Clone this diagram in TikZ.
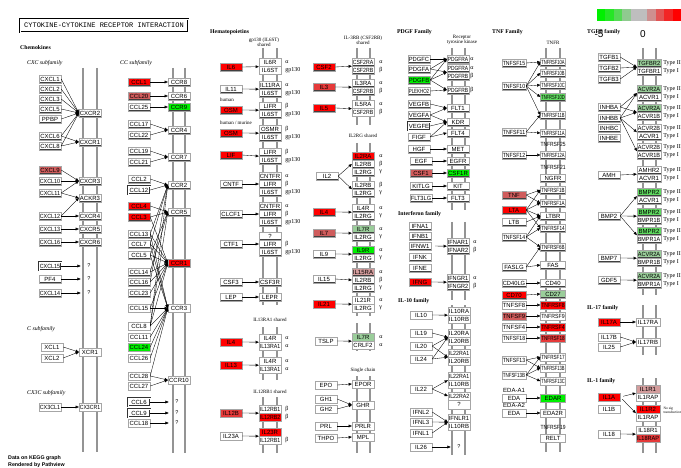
\documentclass[tikz,border=0pt]{standalone}
\usepackage{fontspec}
\setmainfont{Liberation Serif}
\newfontfamily\genefont{Liberation Sans}
\newfontfamily\boxfont{Liberation Mono}
\usepackage{graphicx}
\usetikzlibrary{positioning,arrows.meta}
\definecolor{kR5}{HTML}{FF0000}
\definecolor{kR4}{HTML}{E53A3A}
\definecolor{kR3}{HTML}{CF5C5C}
\definecolor{kR2}{HTML}{D39C9C}
\definecolor{kG5}{HTML}{00F000}
\definecolor{kG3}{HTML}{5FD85F}
\definecolor{kG2}{HTML}{9ACD9A}
\definecolor{kGray}{HTML}{BEBEBE}
\definecolor{kMem}{HTML}{949494}
% text of a gene box is squeezed to the box width
\newsavebox\fitbx
\newdimen\fitht
\newcommand\fitw{20pt}
\newcommand\fitend{\egroup\ifdim\wd\fitbx>\fitw\relax\fitht=\ht\fitbx\resizebox{\fitw}{\fitht}{\usebox\fitbx}\else\usebox\fitbx\fi}

\begin{document}
\begin{tikzpicture}[x=1pt,y=-1pt,
  gbox/.style={draw=black!35,line width=0.35pt,fill=white,minimum height=8,inner sep=0,font=\genefont\fontsize{6}{7}\selectfont,
    path picture={\draw[black!75,line width=1pt] (path picture bounding box.south west) -- (path picture bounding box.south east) -- (path picture bounding box.north east);}},
  g/.style={gbox,minimum width=#1,execute at begin node={\def\fitw{\dimexpr#1pt-1.6pt\relax}\setbox\fitbx\hbox\bgroup},execute at end node={\fitend}},
  g/.default=22,
  dbl/.style={draw=black!80,double=white,double distance=0.7pt,line width=0.3pt,path picture={}},
  pl/.style={inner sep=0,font=\genefont\fontsize{6}{7}\selectfont,execute at begin node={\def\fitw{\dimexpr#1pt\relax}\setbox\fitbx\hbox\bgroup},execute at end node={\fitend}},
  pl/.default=24,
  r5/.style={fill=kR5},r4/.style={fill=kR4},r3/.style={fill=kR3},r2/.style={fill=kR2},
  g5/.style={fill=kG5},g3/.style={fill=kG3},g2/.style={fill=kG2},
  qm/.style={inner sep=0.6pt,font=\genefont\fontsize{5.5}{6}\selectfont},
  gk/.style={inner sep=0,font=\fontsize{6}{7}\selectfont},
  hd/.style={anchor=west,inner sep=0,font=\bfseries\fontsize{5.8}{7}\selectfont},
  sf/.style={anchor=west,inner sep=0,font=\itshape\fontsize{5.8}{7}\selectfont},
  sh/.style={inner sep=0,align=center,font=\fontsize{5}{5.4}\selectfont},
  mem/.style={kMem,line width=1.8pt},
  a/.style={-{Triangle[length=3.2pt,width=2.8pt]},line width=0.35pt,black}]
\clip (0,0) rectangle (681,468);
\fill[white] (0,0) rectangle (681,468);

% ---------------- title, scale
\node[draw,double,double distance=0.8pt,line width=0.45pt,minimum width=168,minimum height=13,inner sep=0,font=\boxfont\fontsize{7}{7}\selectfont] (title) at (104,25.5) {CYTOKINE-CYTOKINE RECEPTOR INTERACTION};
\foreach \c [count=\i from 0] in {kG5,kG5!80!kGray,kG5!55!kGray,kG5!25!kGray,kGray,kGray,kR5!25!kGray,kR5!55!kGray,kR5!80!kGray,kR5}
  \fill[\c] (597+\i*8.4,9) rectangle ++(8.4,12);
\node[inner sep=0,font=\genefont\fontsize{10}{10}\selectfont] (scalelo) at (599,34) {-5};
\node[inner sep=0,font=\genefont\fontsize{10}{10}\selectfont] (scalemid) at (643,34) {0};

% ---------------- membranes
\draw[mem] (83,68) -- (83,452);   \draw[mem] (97,68) -- (97,452);
\draw[mem] (173,68) -- (173,453); \draw[mem] (185,68) -- (185,453);
\draw[mem] (263,48) -- (263,305); \draw[mem] (277,48) -- (277,305);
\draw[mem] (263,327) -- (263,380); \draw[mem] (277,327) -- (277,380);
\draw[mem] (263,397) -- (263,453); \draw[mem] (277,397) -- (277,453);
\draw[mem] (357,48) -- (357,125); \draw[mem] (370,48) -- (370,125);
\draw[mem] (357,143) -- (357,316); \draw[mem] (370,143) -- (370,316);
\draw[mem] (357,323) -- (357,351); \draw[mem] (370,323) -- (370,351);
\draw[mem] (357,376) -- (357,453); \draw[mem] (370,376) -- (370,453);
\draw[mem] (452,48) -- (452,210); \draw[mem] (465,48) -- (465,210);
\draw[mem] (452,222) -- (452,300); \draw[mem] (465,222) -- (465,300);
\draw[mem] (452,305) -- (452,455); \draw[mem] (465,305) -- (465,455);
\draw[mem] (546,48) -- (546,452); \draw[mem] (560,48) -- (560,452);
\draw[mem] (643,48) -- (643,295); \draw[mem] (656,48) -- (656,295);
\draw[mem] (643,305) -- (643,355); \draw[mem] (656,305) -- (656,355);
\draw[mem] (643,378) -- (643,453); \draw[mem] (656,378) -- (656,453);

% ---------------- chemokines
\node[hd] (hchemo) at (20,48) {Chemokines};
\node[sf] (hcxc) at (27,63) {CXC subfamily};
\node[sf] (hcc) at (120,63) {CC subfamily};
\node[sf] (hc) at (27,329) {C subfamily};
\node[sf] (hcx3c) at (27,393) {CX3C subfamily};

\node[g] (cxcl1) at (50,79) {CXCL1};
\node[g] (cxcl2) at (50,89) {CXCL2};
\node[g] (cxcl3) at (50,99) {CXCL3};
\node[g] (cxcl5) at (50,109) {CXCL5};
\node[g] (ppbp) at (50,119) {PPBP};
\node[g] (cxcl6) at (50,136) {CXCL6};
\node[g] (cxcl8) at (50,146) {CXCL8};
\node[g,r3] (cxcl9) at (50,170) {CXCL9};
\node[g] (cxcl10) at (50,181) {CXCL10};
\node[g] (cxcl11) at (50,193) {CXCL11};
\node[g] (cxcl12) at (50,216) {CXCL12};
\node[g] (cxcl13) at (50,229) {CXCL13};
\node[g] (cxcl16) at (50,242) {CXCL16};
\node[g,dbl] (cxcl15) at (50,266) {CXCL15};
\node[g] (pf4) at (50,279) {PF4};
\node[g] (cxcl14) at (50,293) {CXCL14};
\node[g] (xcl1) at (52,347) {XCL1};
\node[g] (xcl2) at (52,358) {XCL2};
\node[g] (cx3cl1) at (50,407) {CX3CL1};

\node[g] (cxcr2) at (90,113) {CXCR2};
\node[g] (cxcr1) at (90,142) {CXCR1};
\node[g] (cxcr3) at (90,181) {CXCR3};
\node[g] (ackr3) at (90,198) {ACKR3};
\node[g] (cxcr4) at (90,216) {CXCR4};
\node[g] (cxcr5) at (90,229) {CXCR5};
\node[g] (cxcr6) at (90,242) {CXCR6};
\node[qm] (cxq1) at (89,266) {?};
\node[qm] (cxq2) at (89,279) {?};
\node[qm] (cxq3) at (89,293) {?};
\node[g] (xcr1) at (90,352) {XCR1};
\node[g] (cx3cr1) at (90,407) {CX3CR1};

\draw[a] (cxcl1.east) -- (cxcr2.west);
\draw[a] (cxcl2.east) -- (cxcr2.west);
\draw[a] (cxcl3.east) -- (cxcr2.west);
\draw[a] (cxcl5.east) -- (cxcr2.west);
\draw[a] (ppbp.east) -- (cxcr2.west);
\draw[a] (cxcl6.east) -- (cxcr2.west);
\draw[a] (cxcl8.east) -- (cxcr2.west);
\draw[a] (cxcl6.east) -- (cxcr1.west);
\draw[a] (cxcl8.east) -- (cxcr1.west);
\draw[a] (cxcl9.east) -- (cxcr3.west);
\draw[a] (cxcl10.east) -- (cxcr3.west);
\draw[a] (cxcl11.east) -- (cxcr3.west);
\draw[a] (cxcl11.east) -- (ackr3.west);
\draw[a] (cxcl12.east) -- (ackr3.west);
\draw[a] (cxcl12.east) -- (cxcr4.west);
\draw[a] (cxcl13.east) -- (cxcr5.west);
\draw[a] (cxcl16.east) -- (cxcr6.west);
\draw[a,shorten >=6pt] (cxcl15.east) -- (cxq1.west);
\draw[a,shorten >=6pt] (pf4.east) -- (cxq2.west);
\draw[a,shorten >=6pt] (cxcl14.east) -- (cxq3.west);
\draw[a] (xcl1.east) -- (xcr1.west);
\draw[a] (xcl2.east) -- (xcr1.west);
\draw[a] (cx3cl1.east) -- (cx3cr1.west);

% ---------------- CC subfamily
\node[g,r5] (ccl1) at (139,82) {CCL1};
\node[g,r3] (ccl20) at (139,96) {CCL20};
\node[g] (ccl25) at (139,107) {CCL25};
\node[g] (ccl17) at (139,124) {CCL17};
\node[g] (ccl22) at (139,135) {CCL22};
\node[g] (ccl19) at (139,151) {CCL19};
\node[g] (ccl21) at (139,162) {CCL21};
\node[g] (ccl2) at (139,179) {CCL2};
\node[g,dbl] (ccl12) at (139,190) {CCL12};
\node[g,r5] (ccl4) at (139,206) {CCL4};
\node[g,r5] (ccl3) at (139,217) {CCL3};
\node[g] (ccl13) at (139,234) {CCL13};
\node[g] (ccl7) at (139,244) {CCL7};
\node[g] (ccl5) at (139,255) {CCL5};
\node[g] (ccl14) at (139,272) {CCL14};
\node[g] (ccl16) at (139,282) {CCL16};
\node[g] (ccl23) at (139,293) {CCL23};
\node[g] (ccl15) at (139,308) {CCL15};
\node[g] (ccl8) at (139,326) {CCL8};
\node[g] (ccl11) at (139,337) {CCL11};
\node[g,g5] (ccl24) at (139,347) {CCL24};
\node[g] (ccl26) at (139,358) {CCL26};
\node[g] (ccl28) at (139,376) {CCL28};
\node[g] (ccl27) at (139,386) {CCL27};
\node[g,dbl] (ccl6) at (139,402) {CCL6};
\node[g,dbl] (ccl9) at (139,413) {CCL9};
\node[g] (ccl18) at (139,423) {CCL18};

\node[g] (ccr8) at (179,82) {CCR8};
\node[g] (ccr6) at (179,96) {CCR6};
\node[g,g5] (ccr9) at (179,107) {CCR9};
\node[g] (ccr4) at (179,130) {CCR4};
\node[g] (ccr7) at (179,157) {CCR7};
\node[g] (ccr2) at (179,185) {CCR2};
\node[g] (ccr5) at (179,212) {CCR5};
\node[g,r5] (ccr1) at (179,263) {CCR1};
\node[g] (ccr3) at (179,308) {CCR3};
\node[g] (ccr10) at (179,380) {CCR10};
\node[qm] (ccq1) at (177,402) {?};
\node[qm] (ccq2) at (177,413) {?};
\node[qm] (ccq3) at (177,423) {?};

\draw[a] (ccl1.east) -- (ccr8.west);
\draw[a] (ccl20.east) -- (ccr6.west);
\draw[a] (ccl25.east) -- (ccr9.west);
\draw[a] (ccl17.east) -- (ccr4.west);
\draw[a] (ccl22.east) -- (ccr4.west);
\draw[a] (ccl19.east) -- (ccr7.west);
\draw[a] (ccl21.east) -- (ccr7.west);
\draw[a] (ccl2.east) -- (ccr2.west);
\draw[a] (ccl12.east) -- (ccr2.west);
\draw[a] (ccl7.east) -- (ccr2.west);
\draw[a] (ccl13.east) -- (ccr2.west);
\draw[a] (ccl8.east) -- (ccr2.west);
\draw[a] (ccl16.east) -- (ccr2.west);
\draw[a] (ccl4.east) -- (ccr5.west);
\draw[a] (ccl3.east) -- (ccr5.west);
\draw[a] (ccl5.east) -- (ccr5.west);
\draw[a] (ccl8.east) -- (ccr5.west);
\draw[a] (ccl14.east) -- (ccr5.west);
\draw[a] (ccl3.east) -- (ccr1.west);
\draw[a] (ccl5.east) -- (ccr1.west);
\draw[a] (ccl7.east) -- (ccr1.west);
\draw[a] (ccl13.east) -- (ccr1.west);
\draw[a] (ccl14.east) -- (ccr1.west);
\draw[a] (ccl15.east) -- (ccr1.west);
\draw[a] (ccl16.east) -- (ccr1.west);
\draw[a] (ccl23.east) -- (ccr1.west);
\draw[a] (ccl8.east) -- (ccr1.west);
\draw[a] (ccl5.east) -- (ccr3.west);
\draw[a] (ccl7.east) -- (ccr3.west);
\draw[a] (ccl13.east) -- (ccr3.west);
\draw[a] (ccl15.east) -- (ccr3.west);
\draw[a] (ccl8.east) -- (ccr3.west);
\draw[a] (ccl11.east) -- (ccr3.west);
\draw[a] (ccl24.east) -- (ccr3.west);
\draw[a] (ccl26.east) -- (ccr3.west);
\draw[a] (ccl28.east) -- (ccr3.west);
\draw[a] (ccl28.east) -- (ccr10.west);
\draw[a] (ccl27.east) -- (ccr10.west);
\draw[a,shorten >=6pt] (ccl6.east) -- (ccq1.west);
\draw[a,shorten >=6pt] (ccl9.east) -- (ccq2.west);
\draw[a,shorten >=6pt] (ccl18.east) -- (ccq3.west);

% ---------------- hematopoietins
\node[hd] (hhema) at (210,32) {Hematopoietins};
\node[sh] (hgp130) at (264,42) {gp130 (IL6ST)\\shared};
\node[sh,anchor=west] (hhuman) at (220,100) {human};
\node[sh,anchor=west] (hmurine) at (220,123) {human / murine};
\node[sh] (hil13) at (270,320) {IL13RA1 shared};
\node[sh] (hil12) at (270,392) {IL12RB1 shared};

\node[g,r5] (il6) at (231,67) {IL6};
\node[g] (il11) at (231,89) {IL11};
\node[g,r5] (osm) at (231,110) {OSM};
\node[g,r5] (osmb) at (231,133) {OSM};
\node[g,r5] (lif) at (231,155) {LIF};
\node[g] (cntf) at (231,184) {CNTF};
\node[g] (clcf1) at (231,214) {CLCF1};
\node[g] (ctf1) at (231,244) {CTF1};
\node[g] (csf3) at (231,282) {CSF3};
\node[g] (lep) at (231,297) {LEP};
\node[g,r5] (il4) at (231,342) {IL4};
\node[g,r5] (il13) at (231,365) {IL13};
\node[g,r4] (il12b) at (231,413) {IL12B};
\node[g] (il23a) at (231,436) {IL23A};

\node[g] (il6r) at (270,62.5) {IL6R};
\node[g] (il6st) at (270,70.5) {IL6ST};
\node[g] (il11ra) at (270,85) {IL11RA};
\node[g] (il6sta) at (270,93) {IL6ST};
\node[g] (lifr) at (270,106) {LIFR};
\node[g] (il6stb) at (270,114) {IL6ST};
\node[g] (osmr) at (270,129) {OSMR};
\node[g] (il6stc) at (270,137) {IL6ST};
\node[g] (lifrb) at (270,152) {LIFR};
\node[g] (il6std) at (270,160) {IL6ST};
\node[g] (cntfr) at (270,176) {CNTFR};
\node[g] (lifrc) at (270,184) {LIFR};
\node[g] (il6ste) at (270,192) {IL6ST};
\node[g] (cntfrb) at (270,206) {CNTFR};
\node[g] (lifrd) at (270,214) {LIFR};
\node[g] (il6stf) at (270,222) {IL6ST};
\node[g] (ctfq) at (270,236) {?};
\node[g] (lifre) at (270,244) {LIFR};
\node[g] (il6stg) at (270,252) {IL6ST};
\node[g] (csf3r) at (270,282) {CSF3R};
\node[g] (lepr) at (270,297) {LEPR};
\node[g] (il4r) at (270,338) {IL4R};
\node[g] (il13ra1) at (270,346) {IL13RA1};
\node[g] (il4rb) at (270,361) {IL4R};
\node[g] (il13ra1b) at (270,369) {IL13RA1};
\node[g] (il12rb1) at (270,409) {IL12RB1};
\node[g,r5] (il12rb2) at (270,417) {IL12RB2};
\node[g,r5] (il23r) at (270,432) {IL23R};
\node[g] (il12rb1b) at (270,440) {IL12RB1};

\node[gk,anchor=west,right=4pt of il6r] (il6r-gk) {α};
\node[gk,anchor=west,right=4pt of il6st] (il6st-gk) {gp130};
\node[gk,anchor=west,right=4pt of il11ra] (il11ra-gk) {α};
\node[gk,anchor=west,right=4pt of il6sta] (il6sta-gk) {gp130};
\node[gk,anchor=west,right=4pt of lifr] (lifr-gk) {β};
\node[gk,anchor=west,right=4pt of il6stb] (il6stb-gk) {gp130};
\node[gk,anchor=west,right=4pt of osmr] (osmr-gk) {β};
\node[gk,anchor=west,right=4pt of il6stc] (il6stc-gk) {gp130};
\node[gk,anchor=west,right=4pt of lifrb] (lifrb-gk) {β};
\node[gk,anchor=west,right=4pt of il6std] (il6std-gk) {gp130};
\node[gk,anchor=west,right=4pt of cntfr] (cntfr-gk) {α};
\node[gk,anchor=west,right=4pt of lifrc] (lifrc-gk) {β};
\node[gk,anchor=west,right=4pt of il6ste] (il6ste-gk) {gp130};
\node[gk,anchor=west,right=4pt of cntfrb] (cntfrb-gk) {α};
\node[gk,anchor=west,right=4pt of lifrd] (lifrd-gk) {β};
\node[gk,anchor=west,right=4pt of il6stf] (il6stf-gk) {gp130};
\node[gk,anchor=west,right=4pt of lifre] (lifre-gk) {β};
\node[gk,anchor=west,right=4pt of il6stg] (il6stg-gk) {gp130};
\node[gk,anchor=west,right=4pt of il4r] (il4r-gk) {α};
\node[gk,anchor=west,right=4pt of il13ra1] (il13ra1-gk) {α};
\node[gk,anchor=west,right=4pt of il4rb] (il4rb-gk) {α};
\node[gk,anchor=west,right=4pt of il13ra1b] (il13ra1b-gk) {α};
\node[gk,anchor=west,right=4pt of il12rb1] (il12rb1-gk) {β};
\node[gk,anchor=west,right=4pt of il12rb2] (il12rb2-gk) {β};
\node[gk,anchor=west,right=4pt of il12rb1b] (il12rb1b-gk) {β};

\draw[a] (il6.east) -- (il6r.south west);
\draw[a] (il11.east) -- (il11ra.south west);
\draw[a] (osm.east) -- (lifr.south west);
\draw[a] (osmb.east) -- (osmr.south west);
\draw[a] (lif.east) -- (lifrb.south west);
\draw[a] (cntf.east) -- (lifrc.west);
\draw[a] (clcf1.east) -- (lifrd.west);
\draw[a] (ctf1.east) -- (lifre.west);
\draw[a] (csf3.east) -- (csf3r.west);
\draw[a] (lep.east) -- (lepr.west);
\draw[a] (il4.east) -- (il4r.south west);
\draw[a] (il13.east) -- (il4rb.south west);
\draw[a] (il12b.east) -- (il12rb1.south west);
\draw[a] (il23a.east) -- (il23r.south west);

% ---------------- IL-3RB and IL2RG shared
\node[sh] (hil3rb) at (363,40) {IL-3RB (CSF2RB)\\shared};
\node[sh] (hil2rg) at (363,136) {IL2RG shared};
\node[sh] (hsingle) at (363,370) {Single chain};

\node[g,r5] (csf2) at (324,67) {CSF2};
\node[g,r4] (il3) at (324,87) {IL3};
\node[g,r5] (il5) at (324,108) {IL5};
\node[g] (il2) at (327,176) {IL2};
\node[g,r5] (il4b) at (324,212) {IL4};
\node[g,r3] (il7) at (324,233) {IL7};
\node[g] (il9) at (324,254) {IL9};
\node[g] (il15) at (324,279) {IL15};
\node[g,r5] (il21) at (324,304) {IL21};
\node[g] (tslp) at (326,341) {TSLP};
\node[g] (epo) at (326,385) {EPO};
\node[g] (gh1) at (326,399) {GH1};
\node[g] (gh2) at (326,409) {GH2};
\node[g] (prl) at (326,426) {PRL};
\node[g] (thpo) at (326,438) {THPO};

\node[g] (csf2ra) at (363,62) {CSF2RA};
\node[g] (csf2rb) at (363,70) {CSF2RB};
\node[g] (il3ra) at (363,83) {IL3RA};
\node[g] (csf2rbb) at (363,91) {CSF2RB};
\node[g] (il5ra) at (363,104.5) {IL5RA};
\node[g] (csf2rbc) at (363,112.5) {CSF2RB};
\node[g,r5] (il2ra) at (363,156) {IL2RA};
\node[g] (il2rb) at (363,164) {IL2RB};
\node[g] (il2rg) at (363,172) {IL2RG};
\node[g] (il2rbb) at (363,185) {IL2RB};
\node[g] (il2rgb) at (363,193) {IL2RG};
\node[g] (il4rc) at (363,208) {IL4R};
\node[g] (il2rgc) at (363,216) {IL2RG};
\node[g,g2] (il7r) at (363,229) {IL7R};
\node[g] (il2rgd) at (363,237) {IL2RG};
\node[g,g5] (il9r) at (363,250) {IL9R};
\node[g] (il2rge) at (363,258) {IL2RG};
\node[g,r2] (il15ra) at (363,272) {IL15RA};
\node[g] (il2rbc) at (363,280) {IL2RB};
\node[g] (il2rgf) at (363,288) {IL2RG};
\node[g] (il21r) at (363,300) {IL21R};
\node[g] (il2rgg) at (363,308) {IL2RG};
\node[g,g2] (il7rb) at (363,337) {IL7R};
\node[g] (crlf2) at (363,345) {CRLF2};
\node[g] (epor) at (363,384) {EPOR};
\node[g] (ghr) at (363,405) {GHR};
\node[g] (prlr) at (363,426) {PRLR};
\node[g] (mpl) at (363,437) {MPL};

\node[gk,anchor=west,right=5pt of csf2ra] (csf2ra-gk) {α};
\node[gk,anchor=west,right=5pt of csf2rb] (csf2rb-gk) {β};
\node[gk,anchor=west,right=5pt of il3ra] (il3ra-gk) {α};
\node[gk,anchor=west,right=5pt of csf2rbb] (csf2rbb-gk) {β};
\node[gk,anchor=west,right=5pt of il5ra] (il5ra-gk) {α};
\node[gk,anchor=west,right=5pt of csf2rbc] (csf2rbc-gk) {β};
\node[gk,anchor=west,right=5pt of il2ra] (il2ra-gk) {α};
\node[gk,anchor=west,right=5pt of il2rb] (il2rb-gk) {β};
\node[gk,anchor=west,right=5pt of il2rg] (il2rg-gk) {γ};
\node[gk,anchor=west,right=5pt of il2rbb] (il2rbb-gk) {β};
\node[gk,anchor=west,right=5pt of il2rgb] (il2rgb-gk) {γ};
\node[gk,anchor=west,right=5pt of il4rc] (il4rc-gk) {α};
\node[gk,anchor=west,right=5pt of il2rgc] (il2rgc-gk) {γ};
\node[gk,anchor=west,right=5pt of il7r] (il7r-gk) {α};
\node[gk,anchor=west,right=5pt of il2rgd] (il2rgd-gk) {γ};
\node[gk,anchor=west,right=5pt of il9r] (il9r-gk) {α};
\node[gk,anchor=west,right=5pt of il2rge] (il2rge-gk) {γ};
\node[gk,anchor=west,right=5pt of il15ra] (il15ra-gk) {α};
\node[gk,anchor=west,right=5pt of il2rbc] (il2rbc-gk) {β};
\node[gk,anchor=west,right=5pt of il2rgf] (il2rgf-gk) {γ};
\node[gk,anchor=west,right=5pt of il21r] (il21r-gk) {α};
\node[gk,anchor=west,right=5pt of il2rgg] (il2rgg-gk) {γ};
\node[gk,anchor=west,right=5pt of il7rb] (il7rb-gk) {α};
\node[gk,anchor=west,right=5pt of crlf2] (crlf2-gk) {α};

\draw[a] (csf2.east) -- (csf2ra.south west);
\draw[a] (il3.east) -- (il3ra.south west);
\draw[a] (il5.east) -- (il5ra.south west);
\draw[a] (il2.east) -- (il2rb.west);
\draw[a] (il2.east) -- (il2rbb.south west);
\draw[a] (il4b.east) -- (il4rc.south west);
\draw[a] (il7.east) -- (il7r.south west);
\draw[a] (il9.east) -- (il9r.south west);
\draw[a] (il15.east) -- (il2rbc.west);
\draw[a] (il21.east) -- (il21r.south west);
\draw[a] (tslp.east) -- (il7rb.south west);
\draw[a] (epo.east) -- (epor.west);
\draw[a] (gh1.east) -- (ghr.west);
\draw[a] (gh2.east) -- (ghr.west);
\draw[a] (prl.east) -- (prlr.west);
\draw[a] (thpo.east) -- (mpl.west);

% ---------------- PDGF, interferon, IL-10 families
\node[hd] (hpdgf) at (397,32) {PDGF Family};
\node[sh] (hrtk) at (462,40) {Receptor\\tyrosine kinase};
\node[hd] (hifn) at (398,214) {Interferon family};
\node[hd] (hil10) at (398,301) {IL-10 family};

\node[g] (pdgfc) at (419,59) {PDGFC};
\node[g] (pdgfa) at (419,69) {PDGFA};
\node[g,g5] (pdgfb) at (419,80) {PDGFB};
\node[g] (plekho2) at (419,91) {PLEKHO2};
\node[g] (vegfb) at (419,104) {VEGFB};
\node[g] (vegfa) at (419,115) {VEGFA};
\node[g,dbl] (vegfe) at (419,126) {VEGFE};
\node[g] (figf) at (419,137) {FIGF};
\node[g] (hgf) at (419,149) {HGF};
\node[g] (egf) at (421,161) {EGF};
\node[g,r3] (csf1) at (421,173) {CSF1};
\node[g] (kitlg) at (421,186) {KITLG};
\node[g] (flt3lg) at (421,198) {FLT3LG};
\node[g] (ifna1) at (420,226) {IFNA1};
\node[g] (ifnb1) at (420,236) {IFNB1};
\node[g] (ifnw1) at (420,246) {IFNW1};
\node[g] (ifnk) at (420,257) {IFNK};
\node[g] (ifne) at (420,268) {IFNE};
\node[g,r5] (ifng) at (420,282) {IFNG};
\node[g] (il10) at (421,315) {IL10};
\node[g] (il19) at (421,333) {IL19};
\node[g] (il20) at (421,346) {IL20};
\node[g] (il24) at (421,359) {IL24};
\node[g] (il22) at (421,389) {IL22};
\node[g] (ifnl2) at (421,412) {IFNL2};
\node[g] (ifnl3) at (421,422) {IFNL3};
\node[g] (ifnl1) at (421,433) {IFNL1};
\node[g] (il26) at (421,447) {IL26};

\node[g] (pdgfra) at (458,59) {PDGFRA};
\node[g] (pdgfrab) at (458,68) {PDGFRA};
\node[g] (pdgfrb) at (458,76) {PDGFRB};
\node[g] (pdgfrbb) at (458,90) {PDGFRB};
\node[g] (flt1) at (458,108) {FLT1};
\node[g] (kdr) at (458,122) {KDR};
\node[g] (flt4) at (458,133) {FLT4};
\node[g] (met) at (458,149) {MET};
\node[g] (egfr) at (458,161) {EGFR};
\node[g,g5] (csf1r) at (458,173) {CSF1R};
\node[g] (kit) at (458,186) {KIT};
\node[g] (flt3) at (458,198) {FLT3};
\node[g] (ifnar1) at (458,242) {IFNAR1};
\node[g] (ifnar2) at (458,250) {IFNAR2};
\node[g] (ifngr1) at (458,278) {IFNGR1};
\node[g] (ifngr2) at (458,286) {IFNGR2};
\node[g] (il10ra) at (459,311) {IL10RA};
\node[g] (il10rb) at (459,319) {IL10RB};
\node[g] (il20ra) at (459,333) {IL20RA};
\node[g] (il20rb) at (459,341) {IL20RB};
\node[g] (il22ra1) at (459,353) {IL22RA1};
\node[g] (il20rbb) at (459,361) {IL20RB};
\node[g] (il22ra1b) at (459,376) {IL22RA1};
\node[g] (il10rbb) at (459,384) {IL10RB};
\node[g] (il22ra2) at (459,396) {IL22RA2};
\node[g,minimum height=9] (ilq) at (459,404.5) {?};
\node[g] (ifnlr1) at (459,418) {IFNLR1};
\node[g] (il10rbc) at (459,426) {IL10RB};
\node[qm] (il26q) at (459,447) {?};

\node[gk,anchor=west,right=1pt of pdgfra] (pdgfra-gk) {α};
\node[gk,anchor=west,right=1pt of pdgfrab] (pdgfrab-gk) {α};
\node[gk,anchor=west,right=1pt of pdgfrb] (pdgfrb-gk) {β};
\node[gk,anchor=west,right=1pt of pdgfrbb] (pdgfrbb-gk) {β};
\node[gk,anchor=west,right=4pt of ifnar1] (ifnar1-gk) {α};
\node[gk,anchor=west,right=4pt of ifnar2] (ifnar2-gk) {β};
\node[gk,anchor=west,right=4pt of ifngr1] (ifngr1-gk) {α};
\node[gk,anchor=west,right=4pt of ifngr2] (ifngr2-gk) {β};

\draw[a] (pdgfc.east) -- (pdgfra.west);
\draw[a] (pdgfa.east) -- (pdgfra.west);
\draw[a] (pdgfa.east) -- (pdgfrab.south west);
\draw[a] (pdgfb.east) -- (pdgfra.west);
\draw[a] (pdgfb.east) -- (pdgfrab.south west);
\draw[a] (pdgfb.east) -- (pdgfrbb.west);
\draw[a] (plekho2.east) -- (pdgfrbb.west);
\draw[a] (vegfb.east) -- (flt1.west);
\draw[a] (vegfa.east) -- (flt1.west);
\draw[a] (vegfa.east) -- (kdr.west);
\draw[a] (vegfe.east) -- (kdr.west);
\draw[a] (figf.east) -- (kdr.west);
\draw[a] (figf.east) -- (flt4.west);
\draw[a] (hgf.east) -- (met.west);
\draw[a] (egf.east) -- (egfr.west);
\draw[a] (csf1.east) -- (csf1r.west);
\draw[a] (kitlg.east) -- (kit.west);
\draw[a] (flt3lg.east) -- (flt3.west);
\draw[a,shorten <=4pt] (ifnw1.east) -- (ifnar1.south west);
\draw[a] (ifng.east) -- (ifngr1.south west);
\draw[a] (il10.east) -- (il10ra.south west);
\draw[a] (il19.east) -- (il20ra.south west);
\draw[a] (il20.east) -- (il20ra.south west);
\draw[a] (il20.east) -- (il22ra1.south west);
\draw[a] (il24.east) -- (il20ra.south west);
\draw[a] (il24.east) -- (il22ra1.south west);
\draw[a] (il22.east) -- (il22ra1b.south west);
\draw[a] (il22.east) -- (il22ra2.west);
\draw[a] (ifnl2.east) -- (ifnlr1.south west);
\draw[a] (ifnl3.east) -- (ifnlr1.south west);
\draw[a] (ifnl1.east) -- (ifnlr1.south west);
\draw[a,shorten >=6pt] (il26.east) -- (il26q.west);

% ---------------- TNF family
\node[hd] (htnf) at (492,32) {TNF Family};
\node[sh] (htnfr) at (553,43) {TNFR};

\node[g=24] (tnfsf15) at (514,63) {TNFSF15};
\node[g=24] (tnfsf10) at (514,86) {TNFSF10};
\node[g=24] (tnfsf11) at (514,132) {TNFSF11};
\node[g=24] (tnfsf12) at (514,155) {TNFSF12};
\node[g=24,r3] (tnf) at (514,195) {TNF};
\node[g=24,r5] (lta) at (514,210) {LTA};
\node[g=24] (ltb) at (514,222) {LTB};
\node[g=24] (tnfsf14) at (514,237) {TNFSF14};
\node[g=24] (faslg) at (514,267) {FASLG};
\node[g=24] (cd40lg) at (514,283) {CD40LG};
\node[g=24,r5] (cd70) at (514,295) {CD70};
\node[g=24] (tnfsf8) at (514,305) {TNFSF8};
\node[g=24,r3] (tnfsf9) at (514,316) {TNFSF9};
\node[g=24] (tnfsf4) at (514,327) {TNFSF4};
\node[g=24] (tnfsf18) at (514,338) {TNFSF18};
\node[g=24] (tnfsf13) at (514,360) {TNFSF13};
\node[g=24] (tnfsf13b) at (514,375) {TNFSF13B};
\node[pl] (edaa1) at (514,390) {EDA-A1};
\node[g=24] (eda) at (514,398) {EDA};
\node[pl] (edaa2) at (514,405) {EDA-A2};
\node[g=24] (edab) at (514,413) {EDA};

\node[g=25] (tnfrsf10a) at (553,62) {TNFRSF10A};
\node[g=25] (tnfrsf10b) at (553,73) {TNFRSF10B};
\node[g=25] (tnfrsf10c) at (553,85) {TNFRSF10C};
\node[g=25,g3] (tnfrsf10d) at (553,97) {TNFRSF10D};
\node[g=25] (tnfrsf11b) at (553,115) {TNFRSF11B};
\node[g=25] (tnfrsf11a) at (553,133) {TNFRSF11A};
\node[pl=25] (tnfrsf25) at (553,144) {TNFRSF25};
\node[g=25] (tnfrsf12a) at (553,155) {TNFRSF12A};
\node[pl=25] (tnfrsf21) at (553,167) {TNFRSF21};
\node[g=25] (ngfr) at (553,178) {NGFR};
\node[g=25] (tnfrsf1b) at (553,190) {TNFRSF1B};
\node[g=25] (tnfrsf1a) at (553,203) {TNFRSF1A};
\node[g=25] (ltbr) at (553,216) {LTBR};
\node[g=25] (tnfrsf14) at (553,228) {TNFRSF14};
\node[g=25] (tnfrsf6b) at (553,247) {TNFRSF6B};
\node[g=25] (fas) at (553,265) {FAS};
\node[g=25] (cd40) at (553,283) {CD40};
\node[g=25,g2] (cd27) at (553,294) {CD27};
\node[g=25,r5] (tnfrsf8) at (553,305) {TNFRSF8};
\node[g=25] (tnfrsf9) at (553,316) {TNFRSF9};
\node[g=25,r5] (tnfrsf4) at (553,327) {TNFRSF4};
\node[g=25,r4] (tnfrsf18) at (553,338) {TNFRSF18};
\node[g=25] (tnfrsf17) at (553,357) {TNFRSF17};
\node[g=25] (tnfrsf13b) at (553,368) {TNFRSF13B};
\node[g=25] (tnfrsf13c) at (553,381) {TNFRSF13C};
\node[g=25,g5] (edar) at (553,398) {EDAR};
\node[g=25] (eda2r) at (553,413) {EDA2R};
\node[pl=25] (tnfrsf19) at (553,427) {TNFRSF19};
\node[g=25] (relt) at (553,438) {RELT};

\draw[a] (tnfsf15.east) -- (tnfrsf10a.west);
\draw[a] (tnfsf10.east) -- (tnfrsf10a.west);
\draw[a] (tnfsf10.east) -- (tnfrsf10b.west);
\draw[a] (tnfsf10.east) -- (tnfrsf10c.west);
\draw[a] (tnfsf10.east) -- (tnfrsf10d.west);
\draw[a] (tnfsf10.east) -- (tnfrsf11b.west);
\draw[a] (tnfsf11.east) -- (tnfrsf11b.west);
\draw[a] (tnfsf11.east) -- (tnfrsf11a.west);
\draw[a] (tnfsf12.east) -- (tnfrsf12a.west);
\draw[a] (tnf.east) -- (tnfrsf1b.west);
\draw[a] (tnf.east) -- (tnfrsf1a.west);
\draw[a] (lta.east) -- (tnfrsf1b.west);
\draw[a] (lta.east) -- (tnfrsf1a.west);
\draw[a] (lta.east) -- (ltbr.west);
\draw[a] (lta.east) -- (tnfrsf14.west);
\draw[a] (ltb.east) -- (ltbr.west);
\draw[a] (tnfsf14.east) -- (ltbr.west);
\draw[a] (tnfsf14.east) -- (tnfrsf14.west);
\draw[a] (tnfsf14.east) -- (tnfrsf6b.west);
\draw[a] (faslg.east) -- (tnfrsf6b.west);
\draw[a] (faslg.east) -- (fas.west);
\draw[a] (cd40lg.east) -- (cd40.west);
\draw[a] (cd70.east) -- (cd27.west);
\draw[a] (tnfsf8.east) -- (tnfrsf8.west);
\draw[a] (tnfsf9.east) -- (tnfrsf9.west);
\draw[a] (tnfsf4.east) -- (tnfrsf4.west);
\draw[a] (tnfsf18.east) -- (tnfrsf18.west);
\draw[a] (tnfsf13.east) -- (tnfrsf17.west);
\draw[a] (tnfsf13.east) -- (tnfrsf13b.west);
\draw[a] (tnfsf13b.east) -- (tnfrsf17.west);
\draw[a] (tnfsf13b.east) -- (tnfrsf13b.west);
\draw[a] (tnfsf13b.east) -- (tnfrsf13c.west);
\draw[a] (eda.east) -- (edar.west);
\draw[a] (edab.east) -- (eda2r.west);

% ---------------- TGFB, IL-17, IL-1 families
\node[hd] (htgfb) at (587,32) {TGFB family};
\node[hd] (hil17) at (587,308) {IL-17 family};
\node[hd] (hil1) at (587,381) {IL-1 family};
\node[anchor=west,inner sep=0,align=left,font=\fontsize{3.6}{4.2}\selectfont] (hnosig) at (663.3,410) {No sig\\transduction};

\node[g] (tgfb1) at (609,57) {TGFB1};
\node[g] (tgfb2) at (609,68) {TGFB2};
\node[g] (tgfb3) at (609,79) {TGFB3};
\node[g] (inhba) at (609,107) {INHBA};
\node[g] (inhbb) at (609,118) {INHBB};
\node[g] (inhbc) at (609,128) {INHBC};
\node[g] (inhbe) at (609,138) {INHBE};
\node[g] (amh) at (609,175) {AMH};
\node[g] (bmp2) at (609,216) {BMP2};
\node[g] (bmp7) at (609,258) {BMP7};
\node[g] (gdf5) at (609,280) {GDF5};
\node[g,r5] (il17a) at (609,322) {IL17A};
\node[g] (il17b) at (609,337) {IL17B};
\node[g] (il25) at (609,347) {IL25};
\node[g,r5] (il1a) at (609,397) {IL1A};
\node[g] (il1b) at (609,409) {IL1B};
\node[g] (il18) at (609,434) {IL18};

\node[g=24,g2] (tgfbr2) at (649,63) {TGFBR2};
\node[g=24] (tgfbr1) at (649,71) {TGFBR1};
\node[g=24,g2] (acvr2a) at (649,89) {ACVR2A};
\node[g=24] (acvr1) at (649,97) {ACVR1};
\node[g=24,g2] (acvr2ab) at (649,108) {ACVR2A};
\node[g=24] (acvr1b) at (649,116) {ACVR1B};
\node[g=24] (acvr2b) at (649,128) {ACVR2B};
\node[g=24] (acvr1c) at (649,136) {ACVR1};
\node[g=24] (acvr2bb) at (649,147) {ACVR2B};
\node[g=24] (acvr1bb) at (649,155) {ACVR1B};
\node[g=24] (amhr2) at (649,170) {AMHR2};
\node[g=24] (acvr1d) at (649,178) {ACVR1};
\node[g=24,g3] (bmpr2) at (649,192) {BMPR2};
\node[g=24] (acvr1e) at (649,200) {ACVR1};
\node[g=24,g3] (bmpr2b) at (649,212) {BMPR2};
\node[g=24] (bmpr1b) at (649,220) {BMPR1B};
\node[g=24,g3] (bmpr2c) at (649,231) {BMPR2};
\node[g=24] (bmpr1a) at (649,239) {BMPR1A};
\node[g=24,g2] (acvr2ac) at (649,254) {ACVR2A};
\node[g=24] (bmpr1bb) at (649,262) {BMPR1B};
\node[g=24,g2] (acvr2ad) at (649,276) {ACVR2A};
\node[g=24] (bmpr1ab) at (649,284) {BMPR1A};
\node[g=24] (il17ra) at (648,322) {IL17RA};
\node[g=24] (il17rb) at (648,342) {IL17RB};
\node[g=24,r2] (il1r1) at (648,389) {IL1R1};
\node[g=24] (il1rap) at (648,397) {IL1RAP};
\node[g=24,r5] (il1r2) at (648,409) {IL1R2};
\node[g=24] (il1rapb) at (648,417) {IL1RAP};
\node[g=24] (il18r1) at (648,430) {IL18R1};
\node[g=24,r4] (il18rap) at (648,438) {IL18RAP};

\node[gk,anchor=west,right=2pt of tgfbr2] (tgfbr2-gk) {Type II};
\node[gk,anchor=west,right=2pt of tgfbr1] (tgfbr1-gk) {Type I};
\node[gk,anchor=west,right=2pt of acvr2a] (acvr2a-gk) {Type II};
\node[gk,anchor=west,right=2pt of acvr1] (acvr1-gk) {Type I};
\node[gk,anchor=west,right=2pt of acvr2ab] (acvr2ab-gk) {Type II};
\node[gk,anchor=west,right=2pt of acvr1b] (acvr1b-gk) {Type I};
\node[gk,anchor=west,right=2pt of acvr2b] (acvr2b-gk) {Type II};
\node[gk,anchor=west,right=2pt of acvr1c] (acvr1c-gk) {Type I};
\node[gk,anchor=west,right=2pt of acvr2bb] (acvr2bb-gk) {Type II};
\node[gk,anchor=west,right=2pt of acvr1bb] (acvr1bb-gk) {Type I};
\node[gk,anchor=west,right=2pt of amhr2] (amhr2-gk) {Type II};
\node[gk,anchor=west,right=2pt of acvr1d] (acvr1d-gk) {Type I};
\node[gk,anchor=west,right=2pt of bmpr2] (bmpr2-gk) {Type II};
\node[gk,anchor=west,right=2pt of acvr1e] (acvr1e-gk) {Type I};
\node[gk,anchor=west,right=2pt of bmpr2b] (bmpr2b-gk) {Type II};
\node[gk,anchor=west,right=2pt of bmpr1b] (bmpr1b-gk) {Type I};
\node[gk,anchor=west,right=2pt of bmpr2c] (bmpr2c-gk) {Type II};
\node[gk,anchor=west,right=2pt of bmpr1a] (bmpr1a-gk) {Type I};
\node[gk,anchor=west,right=2pt of acvr2ac] (acvr2ac-gk) {Type II};
\node[gk,anchor=west,right=2pt of bmpr1bb] (bmpr1bb-gk) {Type I};
\node[gk,anchor=west,right=2pt of acvr2ad] (acvr2ad-gk) {Type II};
\node[gk,anchor=west,right=2pt of bmpr1ab] (bmpr1ab-gk) {Type I};

\draw[a] (tgfb1.east) -- (tgfbr2.south west);
\draw[a] (tgfb2.east) -- (tgfbr2.south west);
\draw[a] (tgfb3.east) -- (tgfbr2.south west);
\draw[a] (inhba.east) -- (acvr2a.south west);
\draw[a] (inhba.east) -- (acvr2ab.south west);
\draw[a] (inhbb.east) -- (acvr2a.south west);
\draw[a] (inhbb.east) -- (acvr2ab.south west);
\draw[a] (inhbb.east) -- (acvr2b.south west);
\draw[a] (inhbb.east) -- (acvr2bb.south west);
\draw[a] (amh.east) -- (amhr2.south west);
\draw[a] (bmp2.east) -- (bmpr2.south west);
\draw[a] (bmp2.east) -- (bmpr2b.south west);
\draw[a] (bmp2.east) -- (bmpr2c.south west);
\draw[a] (bmp7.east) -- (acvr2ac.south west);
\draw[a] (gdf5.east) -- (acvr2ad.south west);
\draw[a] (il17a.east) -- (il17ra.west);
\draw[a] (il17b.east) -- (il17rb.west);
\draw[a] (il25.east) -- (il17rb.west);
\draw[a,shorten <=3pt] (il1a.east) -- (il1r1.south west);
\draw[a,shorten <=3pt] (il1a.east) -- (il1r2.south west);
\draw[a] (il18.east) -- (il18r1.south west);

% ---------------- footer
\node[anchor=west,inner sep=0,align=left,font=\genefont\bfseries\fontsize{5.3}{7}\selectfont] (foot) at (8,461.5) {Data on KEGG graph\\Rendered by Pathview};
\end{tikzpicture}
\end{document}
